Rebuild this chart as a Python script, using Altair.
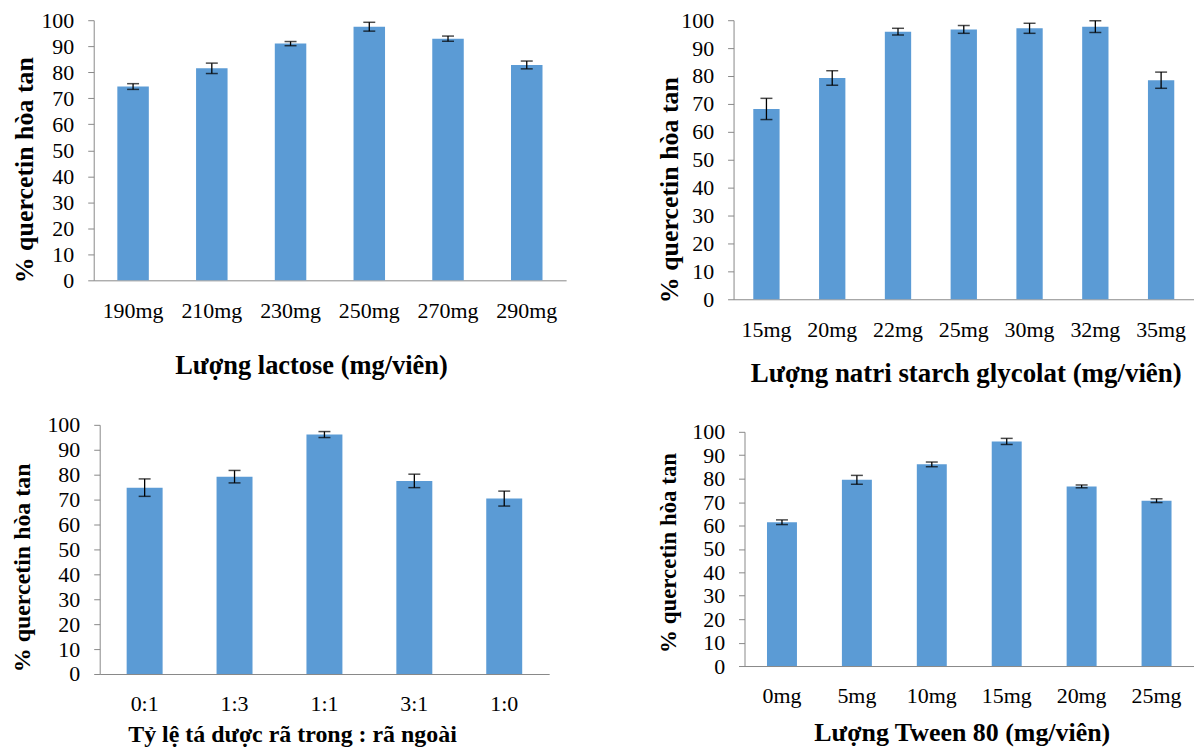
import altair as alt
import pandas as pd

# ---- data ----
lac_cats = ["190mg", "210mg", "230mg", "250mg", "270mg", "290mg"]
lac_vals = [74.5, 81.5, 91.0, 97.5, 92.9, 82.8]
lac_errs = [1.1, 2.0, 0.8, 1.7, 1.0, 1.5]

ssg_cats = ["15mg", "20mg", "22mg", "25mg", "30mg", "32mg", "35mg"]
ssg_vals = [68.2, 79.3, 95.9, 96.7, 97.1, 97.7, 78.5]
ssg_errs = [3.8, 2.6, 1.2, 1.4, 1.8, 2.1, 2.9]

ratio_cats = ["0:1", "1:3", "1:1", "3:1", "1:0"]
ratio_vals = [74.8, 79.2, 96.1, 77.5, 70.4]
ratio_errs = [3.5, 2.5, 1.2, 2.7, 3.0]

tw_cats = ["0mg", "5mg", "10mg", "15mg", "20mg", "25mg"]
tw_vals = [61.4, 79.5, 86.1, 95.9, 76.7, 70.6]
tw_errs = [1.0, 1.9, 1.0, 1.3, 0.6, 0.8]

y_ticks = list(range(0, 101, 10))
Y_TITLE = "% quercetin hòa tan"

FONT = "Liberation Serif"
GRAY = "#898989"
BLUE = "#5B9BD5"


def panel(cats, vals, errs, xtitle, w, h, ytx, yty, yts, xtx, xty, xts,
          xr=None, yr=None, yoff=0):
    df = pd.DataFrame({"cat": cats, "val": vals, "err": errs})
    xs = dict(paddingInner=0.6, paddingOuter=0.3)
    if xr is not None:
        xs["range"] = xr
    ys = dict(domain=[0, 100], nice=False)
    if yr is not None:
        ys["range"] = yr
    xaxis = alt.Axis(title=xtitle, labelAngle=0, ticks=False,
                     domainColor=GRAY, domainWidth=1, labelOverlap=False,
                     labelFont=FONT, labelFontSize=22, labelColor="black",
                     labelBaseline="alphabetic", labelPadding=37,
                     titleFont=FONT, titleFontSize=xts, titleFontWeight="bold",
                     titleColor="black", titleBaseline="alphabetic",
                     titleAlign="center", titleX=xtx, titleY=xty)
    yaxis = alt.Axis(title=Y_TITLE, values=y_ticks, tickCount=11, grid=False,
                     tickSize=6, tickColor=GRAY, domainColor=GRAY,
                     labelOverlap=False,
                     labelFont=FONT, labelFontSize=22, labelColor="black",
                     labelPadding=14, offset=yoff,
                     titleFont=FONT, titleFontSize=yts, titleFontWeight="bold",
                     titleColor="black", titleAngle=270,
                     titleBaseline="alphabetic", titleAlign="center",
                     titleX=ytx, titleY=yty)
    x = alt.X("cat:N", sort=cats, scale=alt.Scale(**xs), axis=xaxis)
    ysc = alt.Scale(**ys)
    base = alt.Chart(df).transform_calculate(
        lo="datum.val - datum.err", hi="datum.val + datum.err")
    bars = base.mark_bar(color=BLUE).encode(
        x=x, y=alt.Y("val:Q", scale=ysc, axis=yaxis))
    rule = base.mark_rule(color="black", strokeWidth=1.3).encode(
        x=x, y=alt.Y("lo:Q", scale=ysc, axis=yaxis), y2="hi:Q")
    t_lo = base.mark_tick(color="black", size=12, thickness=1.5).encode(
        x=x, y=alt.Y("lo:Q", scale=ysc, axis=yaxis))
    t_hi = base.mark_tick(color="black", size=12, thickness=1.5).encode(
        x=x, y=alt.Y("hi:Q", scale=ysc, axis=yaxis))
    return alt.layer(bars, rule, t_lo, t_hi).properties(width=w, height=h)


p1 = panel(lac_cats, lac_vals, lac_errs, "Lượng lactose (mg/viên)",
           474, 261, ytx=-61, yty=150, yts=26, xtx=218, xty=93, xts=26.5)
p2 = panel(ssg_cats, ssg_vals, ssg_errs, "Lượng natri starch glycolat (mg/viên)",
           462, 280, ytx=-56, yty=170, yts=26, xtx=233, xty=83, xts=27)
p3 = panel(ratio_cats, ratio_vals, ratio_errs, "Tỷ lệ tá dược rã trong : rã ngoài",
           457, 250, ytx=-70, yty=143, yts=24, xtx=199, xty=68, xts=24,
           xr=[6, 457], yoff=-6)
p4 = panel(tw_cats, tw_vals, tw_errs, "Lượng Tween 80 (mg/viên)",
           462, 242, ytx=-69, yty=128, yts=23, xtx=229, xty=75, xts=26,
           xr=[11, 462], yr=[242, 7], yoff=-11)

chart = alt.concat(p1, p2, p3, p4, columns=2, bounds="flush",
                   spacing={"row": 126, "column": 168}).properties(
    padding={"left": 3, "top": 0, "right": 0, "bottom": 0},
    background="white",
).configure_view(stroke=None).configure_axis(labelOverlap=False)

chart.save("out.html", embed_options={"renderer": "svg", "actions": False})
